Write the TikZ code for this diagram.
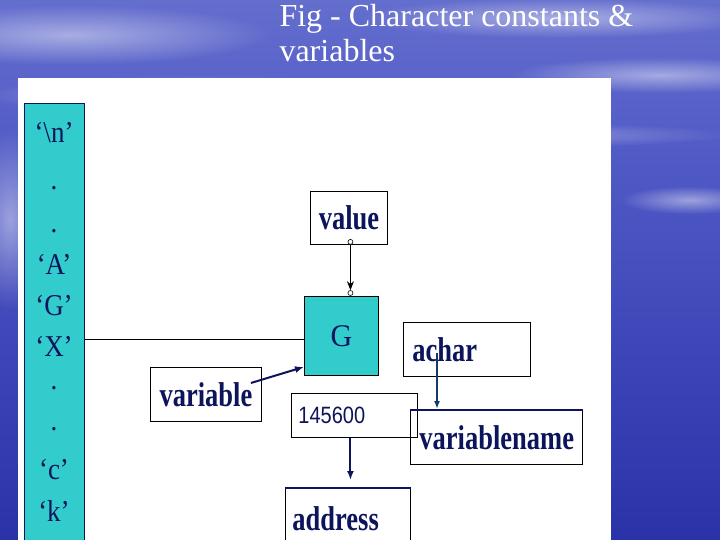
\documentclass[tikz,border=0pt]{standalone}
\usepackage{fontspec}
\setmainfont{Liberation Serif}
\newfontfamily\arialfont{Liberation Sans}
\usepackage{graphicx}
\usetikzlibrary{positioning,calc,arrows.meta,fadings}
\definecolor{ink}{RGB}{12,20,92}
\definecolor{tealbox}{RGB}{51,204,204}
\definecolor{skytop}{RGB}{100,110,205}
\definecolor{seamid}{RGB}{80,90,198}
\definecolor{seabot}{RGB}{42,50,168}
\definecolor{achararrow}{RGB}{18,60,100}
\newcommand{\talltext}[2][1.3]{\scalebox{1}[#1]{#2}}
\tikzfading[name=softglow,inner color=transparent!0,outer color=transparent!100]
\tikzset{
  box/.style={draw=black,line width=0.9pt,anchor=north west,inner sep=0pt,
    minimum height=54pt,text=ink,font=\bfseries\fontsize{26.5}{26.5}\selectfont},
  leftbox/.style={box,inner xsep=9pt,text width=#1,align=left},
  charlabel/.style={anchor=base,text=ink,font=\fontsize{27}{27}\selectfont},
  hollowdot/.style={shape=circle,draw=black,fill=white,inner sep=0pt,minimum size=5pt,line width=0.6pt},
  navyarrow/.style={draw=ink,line width=2pt,-{Latex[length=9pt,width=7pt]}},
  cloud/.style={fill=white,opacity=0.45,path fading=softglow}
}

\begin{document}
\begin{tikzpicture}[x=1pt,y=-1pt]
  \useasboundingbox (0,0) rectangle (720,540);
  \clip (0,0) rectangle (720,540);
  % sky and sea behind the slide
  \shade[top color=skytop,bottom color=seamid] (0,0) rectangle (720,160);
  \shade[top color=seamid,bottom color=seabot] (0,160) rectangle (720,540);
  \foreach \cx/\cy/\rx/\ry in {70/35/200/30, 200/95/220/20, 560/18/200/20, 660/75/150/18, 430/135/300/14, 10/220/40/90, 690/200/70/14}
    \fill[cloud] (\cx,\cy) ellipse [x radius=\rx, y radius=\ry];
  % slide panel
  \fill[white] (18,78) rectangle (611,545);
  \node[anchor=base west,text=white,font=\fontsize{32}{32}\selectfont] (title1) at (276,27) {Fig - Character constants \&};
  \node[anchor=base west,text=white,font=\fontsize{32}{32}\selectfont] (title2) at (276,62) {variables};

  % column of character constants
  \node[draw=ink,fill=tealbox,line width=0.9pt,anchor=north west,minimum width=60pt,minimum height=450pt] (chars) at (24,103) {};
  \foreach \c/\yy in {{\textquoteleft\textbackslash n\textquoteright}/143, ./190, ./233,
      {\textquoteleft A\textquoteright}/274, {\textquoteleft G\textquoteright}/315, {\textquoteleft X\textquoteright}/356,
      ./389, ./430, {\textquoteleft c\textquoteright}/479, {\textquoteleft k\textquoteright}/521}
    \node[charlabel] at (54,\yy) {\talltext[1.12]{\c}};

  % boxes
  \node[box,minimum width=77pt,minimum height=53pt] (value) at (310,191) {\talltext{value}};
  \node[box,fill=tealbox,minimum width=74pt,minimum height=79pt,font=\fontsize{30}{30}\selectfont] (G) at (304,296) {\talltext[1.05]{G}};
  \node[box,minimum width=111pt] (variable) at (150,367) {\talltext{variable}};
  \node[leftbox=112pt,inner xsep=7pt,minimum height=44pt,font=\arialfont\fontsize{20}{20}\selectfont] (num) at (291,393) {\talltext[1.18]{145600}};
  \node[leftbox=109pt] (achar) at (403,322) {\talltext{achar}};
  \node[leftbox=154pt] (vname) at (410,410) {\talltext{variablename}};
  \node[leftbox=111pt,inner xsep=7pt,minimum height=60pt] (address) at (285,488) {\talltext{address}};
  \draw[ink,line width=2pt] (vname.north west) -- (vname.north east);
  \draw[ink,line width=2pt] (address.north west) -- (address.north east);

  % connectors
  \coordinate (Gline) at ($(G.west)+(0,3.5)$);
  \draw[black,line width=0.9pt] (chars.east |- Gline) -- (Gline);
  \node[hollowdot] (vdot) at ($(value.south)+(1.5,-3)$) {};
  \node[hollowdot] (gdot) at ($(vdot |- G.north)+(0,-3)$) {};
  \draw[black,line width=0.9pt,-{Stealth[length=9pt,width=7pt]}] (vdot) -- (gdot);
  \draw[navyarrow] ($(variable.north east)+(-11,16)$) -- ($(G.south west)+(0,-9)$);
  \draw[navyarrow] ($(num.south)+(-4,0)$) -- ($(num.south |- address.north)+(-4,-8)$);
  \draw[draw=achararrow,line width=1.6pt,-{Latex[length=8pt,width=6pt]}] ($(achar.west)+(34,4)$) -- ($(achar.west |- vname.north)+(34,-1)$);
\end{tikzpicture}
\end{document}
